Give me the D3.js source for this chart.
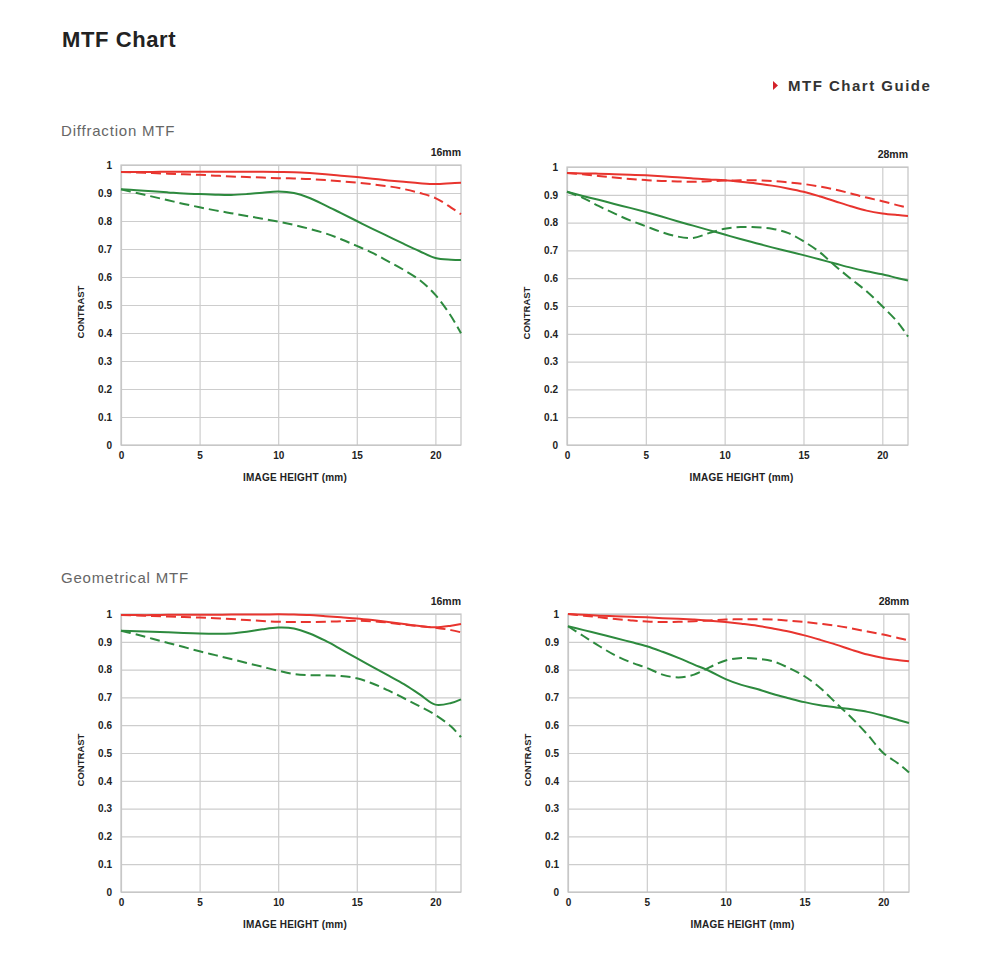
<!DOCTYPE html>
<html><head><meta charset="utf-8">
<script src="https://cdn.jsdelivr.net/npm/d3@7"></script>
<style>
html,body{margin:0;padding:0;background:#fff;}
svg{display:block;}
</style></head>
<body>
<svg id="chart" width="990" height="974"></svg>
<script>
// ---- data ----
const imageHeights = [0,1,2,3,4,5,6,7,8,9,10,11,12,13,14,15,16,17,18,19,20,21,21.63];
const yTicks = [0,0.1,0.2,0.3,0.4,0.5,0.6,0.7,0.8,0.9,1];
const yTickLabels = ["0","0.1","0.2","0.3","0.4","0.5","0.6","0.7","0.8","0.9","1"];
const xTicks = [0,5,10,15,20];
const xTickLabels = ["0","5","10","15","20"];
const sectionTitles = ["Diffraction MTF","Geometrical MTF"];
const focalLabels = ["16mm","28mm"];

// Diffraction 16mm
const diff16_redSolid  = [0.975,0.975,0.975,0.976,0.976,0.976,0.976,0.976,0.976,0.976,0.975,0.974,0.971,0.967,0.962,0.957,0.951,0.945,0.940,0.935,0.932,0.935,0.937];
const diff16_redDash   = [0.975,0.973,0.971,0.969,0.967,0.965,0.962,0.959,0.957,0.955,0.953,0.952,0.950,0.946,0.942,0.937,0.931,0.924,0.914,0.900,0.882,0.848,0.824];
const diff16_greenSolid= [0.913,0.910,0.906,0.902,0.898,0.896,0.894,0.893,0.896,0.901,0.905,0.900,0.882,0.856,0.828,0.800,0.772,0.745,0.718,0.692,0.668,0.662,0.661];
const diff16_greenDash = [0.913,0.900,0.887,0.874,0.861,0.849,0.838,0.828,0.818,0.808,0.798,0.786,0.772,0.756,0.735,0.711,0.686,0.656,0.625,0.589,0.536,0.460,0.399];
// Diffraction 28mm
const diff28_redSolid  = [0.978,0.977,0.976,0.974,0.972,0.970,0.967,0.963,0.959,0.955,0.952,0.947,0.941,0.933,0.923,0.911,0.895,0.877,0.859,0.843,0.833,0.827,0.824];
const diff28_redDash   = [0.978,0.974,0.968,0.962,0.957,0.953,0.950,0.948,0.947,0.949,0.951,0.952,0.952,0.950,0.945,0.939,0.930,0.919,0.905,0.890,0.877,0.862,0.853];
const diff28_greenSolid= [0.911,0.896,0.882,0.867,0.853,0.838,0.822,0.805,0.789,0.773,0.757,0.741,0.726,0.711,0.697,0.683,0.668,0.653,0.638,0.625,0.614,0.600,0.592];
const diff28_greenDash = [0.911,0.889,0.860,0.833,0.808,0.787,0.766,0.750,0.745,0.762,0.778,0.784,0.783,0.778,0.763,0.733,0.695,0.645,0.598,0.553,0.499,0.440,0.390];
// Geometrical 16mm
const geo16_redSolid   = [0.996,0.996,0.996,0.997,0.997,0.997,0.997,0.998,0.998,0.998,0.999,0.998,0.996,0.992,0.988,0.984,0.978,0.971,0.964,0.957,0.952,0.958,0.964];
const geo16_redDash    = [0.996,0.995,0.993,0.991,0.989,0.987,0.985,0.982,0.978,0.975,0.972,0.971,0.971,0.972,0.974,0.976,0.974,0.969,0.962,0.956,0.951,0.942,0.934];
const geo16_greenSolid = [0.940,0.938,0.936,0.934,0.932,0.930,0.929,0.930,0.936,0.945,0.951,0.948,0.930,0.904,0.873,0.841,0.810,0.779,0.748,0.711,0.674,0.680,0.693];
const geo16_greenDash  = [0.940,0.926,0.911,0.896,0.881,0.866,0.852,0.838,0.824,0.810,0.796,0.784,0.780,0.779,0.777,0.769,0.750,0.725,0.697,0.668,0.637,0.595,0.557];
// Geometrical 28mm
const geo28_redSolid   = [1.000,0.997,0.994,0.992,0.990,0.988,0.985,0.983,0.980,0.976,0.971,0.965,0.958,0.948,0.937,0.923,0.907,0.890,0.871,0.854,0.842,0.834,0.830];
const geo28_redDash    = [1.000,0.994,0.988,0.982,0.977,0.973,0.971,0.972,0.974,0.977,0.980,0.981,0.981,0.980,0.976,0.971,0.965,0.958,0.948,0.937,0.926,0.913,0.905];
const geo28_greenSolid = [0.956,0.942,0.928,0.914,0.899,0.884,0.864,0.842,0.818,0.794,0.766,0.745,0.730,0.712,0.697,0.683,0.672,0.664,0.657,0.648,0.634,0.618,0.608];
const geo28_greenDash  = [0.956,0.920,0.884,0.851,0.826,0.806,0.782,0.772,0.782,0.809,0.833,0.842,0.839,0.830,0.806,0.776,0.734,0.680,0.626,0.566,0.500,0.460,0.430];

const RED = "#e8342e", GREEN = "#2d8a3e";

const panels = [
  {label: focalLabels[0], box:{l:121,r:461,t:165,b:445}, series:[diff16_redSolid,diff16_redDash,diff16_greenSolid,diff16_greenDash]},
  {label: focalLabels[1], box:{l:567,r:908,t:167,b:445}, series:[diff28_redSolid,diff28_redDash,diff28_greenSolid,diff28_greenDash]},
  {label: focalLabels[0], box:{l:121,r:461,t:614,b:892}, series:[geo16_redSolid,geo16_redDash,geo16_greenSolid,geo16_greenDash]},
  {label: focalLabels[1], box:{l:568,r:909,t:614,b:892}, series:[geo28_redSolid,geo28_redDash,geo28_greenSolid,geo28_greenDash]}
];
const styles = [
  {color:RED, dash:null},{color:RED, dash:"10,5"},
  {color:GREEN, dash:null},{color:GREEN, dash:"10,5"}
];

const svg = d3.select("#chart");
const FONT = "'Liberation Sans', Arial, sans-serif";

// Title
svg.append("text").attr("x",62).attr("y",47).attr("font-family",FONT)
  .attr("font-size",22).attr("font-weight","bold").attr("letter-spacing",0.6)
  .attr("fill","#222").text("MTF Chart");
// Guide link
svg.append("path").attr("d","M773,81 L778,85.5 L773,90 Z").attr("fill","#d3222a");
svg.append("text").attr("x",788).attr("y",90.5).attr("font-family",FONT)
  .attr("font-size",15).attr("font-weight","bold").attr("letter-spacing",1.5)
  .attr("fill","#333").text("MTF Chart Guide");
// Section titles
[136,583].forEach((y,i)=>{
  svg.append("text").attr("x",61).attr("y",y).attr("font-family",FONT)
    .attr("font-size",15).attr("letter-spacing",0.8).attr("fill","#666").text(sectionTitles[i]);
});

panels.forEach(p=>{
  const b = p.box;
  const x = d3.scaleLinear().domain([0,21.63]).range([b.l,b.r]);
  const y = d3.scaleLinear().domain([0,1]).range([b.b,b.t]);
  const g = svg.append("g");

  const yAx = d3.axisLeft(y).tickValues(yTicks).tickSize(-(b.r-b.l)).tickPadding(9)
    .tickFormat((d,i)=>yTickLabels[i]);
  const ya = g.append("g").attr("transform",`translate(${b.l},0)`).call(yAx);
  ya.select(".domain").remove();
  ya.selectAll(".tick line").attr("stroke","#cdcdcd").attr("stroke-width",1.2);
  ya.selectAll(".tick text").attr("font-family",FONT).attr("font-size",10)
    .attr("font-weight","bold").attr("fill","#222");

  const xAx = d3.axisBottom(x).tickValues(xTicks).tickSize(-(b.b-b.t)).tickPadding(7)
    .tickFormat((d,i)=>xTickLabels[i]);
  const xa = g.append("g").attr("transform",`translate(0,${b.b})`).call(xAx);
  xa.select(".domain").remove();
  xa.selectAll(".tick line").attr("stroke","#cdcdcd").attr("stroke-width",1.2);
  xa.selectAll(".tick text").attr("font-family",FONT).attr("font-size",10)
    .attr("font-weight","bold").attr("fill","#222");

  g.append("rect").attr("x",b.l).attr("y",b.t).attr("width",b.r-b.l).attr("height",b.b-b.t)
    .attr("fill","none").attr("stroke","#c4c4c4").attr("stroke-width",1.2);

  g.append("text").attr("x",(b.l+b.r)/2+4).attr("y",b.b+36).attr("text-anchor","middle")
    .attr("font-family",FONT).attr("font-size",10).attr("font-weight","bold")
    .attr("letter-spacing",0.2).attr("fill","#222").text("IMAGE HEIGHT (mm)");
  g.append("text").attr("transform",`translate(${b.l-37},${(b.t+b.b)/2+7}) rotate(-90)`)
    .attr("text-anchor","middle").attr("font-family",FONT).attr("font-size",9.5)
    .attr("font-weight","bold").attr("fill","#222").text("CONTRAST");
  g.append("text").attr("x",b.r).attr("y",b.t-9).attr("text-anchor","end")
    .attr("font-family",FONT).attr("font-size",10.5).attr("font-weight","bold")
    .attr("fill","#222").text(p.label);

  const line = d3.line().x((d,i)=>x(imageHeights[i])).y(d=>y(d)).curve(d3.curveCatmullRom);
  const order = [2,3,0,1];
  order.forEach(k=>{
    g.append("path").datum(p.series[k]).attr("d",line).attr("fill","none")
      .attr("stroke",styles[k].color).attr("stroke-width",2)
      .attr("stroke-dasharray",styles[k].dash);
  });
});
</script>
</body></html>
